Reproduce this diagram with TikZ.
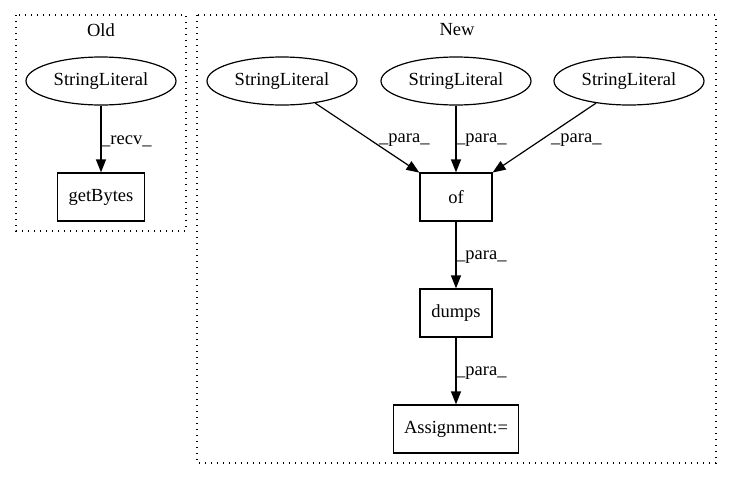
\documentclass[tikz,border=0pt]{standalone}
\usepackage{fontspec}
\setmainfont{Liberation Serif}
\usetikzlibrary{shapes.geometric,arrows.meta}
\begin{document}
\begin{tikzpicture}[x=1pt,y=-1pt,
  every node/.style={font=\fontsize{18.5}{20}\selectfont},
  lit/.style={draw,ellipse,minimum width=150pt,minimum height=48pt,inner sep=0pt,line width=1.2pt},
  op/.style={draw,rectangle,minimum height=48pt,inner sep=2pt,line width=1.2pt},
  clus/.style={draw,line width=1.3pt,dash pattern=on 1.4pt off 4.6pt},
  edge/.style={-{Triangle[length=13pt,width=10pt]},line width=1.2pt},
  lab/.style={anchor=west,inner sep=0pt}]
\useasboundingbox (0,0) rectangle (731,480);
\draw[clus] (16,15) rectangle (186,231);
\node (told) at (101,30) {Old};
\draw[clus] (197,15) rectangle (716,463);
\node (tnew) at (457,30) {New};
\node[lit] (s0) at (101,81) {StringLiteral};
\node[op,minimum width=87pt] (gb) at (101,197) {getBytes};
\node[lit] (s1) at (282,81) {StringLiteral};
\node[lit] (s2) at (456,81) {StringLiteral};
\node[lit] (s3) at (629,81) {StringLiteral};
\node[op,minimum width=72pt] (of) at (456,197) {of};
\node[op,minimum width=72pt] (du) at (456,313) {dumps};
\node[op,minimum width=125pt] (as) at (456,429) {Assignment:=};
\draw[edge] (s0) -- (gb);
\draw[edge] (s1) -- (of);
\draw[edge] (s2) -- (of);
\draw[edge] (s3) -- (of);
\draw[edge] (of) -- (du);
\draw[edge] (du) -- (as);
\node[lab] (l0) at (101,141) {\_recv\_};
\node[lab] (l1) at (379,140) {\_para\_};
\node[lab] (l2) at (456,140) {\_para\_};
\node[lab] (l3) at (551,140) {\_para\_};
\node[lab] (l4) at (456,257) {\_para\_};
\node[lab] (l5) at (456,373) {\_para\_};
\end{tikzpicture}
\end{document}
